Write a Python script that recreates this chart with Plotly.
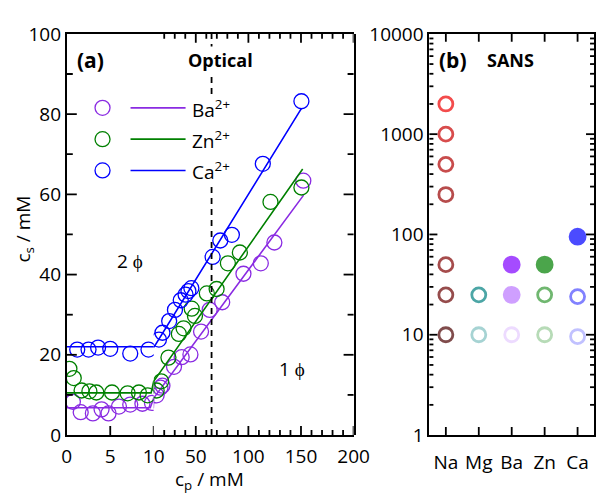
import math
import plotly.graph_objects as go

W, H = 611, 504


def px(x):
    return x / W


def py(y):
    return 1 - y / H


# ---------------- Panel (a): optical data (c_p, c_s in mM) ----------------
ba_cp = [0.7, 1.6, 3.0, 4.0, 4.8, 6.0, 7.3, 8.7, 9.8, 12.8, 16.4, 18.3, 29.3,
         36.6, 44.9, 55.0, 63.2, 75.1, 95.3, 111.8, 124.7, 152.2]
ba_cs = [8.3, 5.7, 5.4, 6.4, 5.4, 7.1, 7.6, 7.8, 8.0, 9.9, 11.8, 12.3, 17.0,
         19.4, 20.1, 25.8, 31.2, 33.1, 40.2, 42.8, 48.0, 63.4]

zn_cp = [0.3, 0.8, 1.7, 2.6, 3.4, 5.2, 7.0, 8.3, 9.3, 12.8, 17.1, 24.0, 33.9,
         38.4, 46.1, 49.2, 60.5, 69.8, 80.5, 91.9, 121.0, 150.4]
zn_cs = [16.5, 14.2, 11.1, 10.9, 10.6, 10.6, 10.4, 10.6, 9.9, 11.1, 13.4, 19.3,
         25.2, 26.6, 31.5, 29.7, 35.3, 36.4, 42.8, 45.5, 58.1, 61.7]

ca_cp = [1.2, 2.5, 3.6, 5.0, 7.3, 9.4, 15.0, 18.3, 24.7, 30.2, 35.7, 40.3,
         43.0, 45.8, 66.0, 73.3, 84.3, 113.7, 150.4]
ca_cs = [21.3, 21.3, 21.8, 21.5, 20.3, 21.3, 23.8, 25.5, 28.4, 31.2, 33.6, 35.0,
         35.9, 36.6, 44.4, 48.5, 49.9, 67.6, 83.2]

# piecewise fits
ba_fit_cp = [0, 9.6, 10, 152.5]
ba_fit_cs = [6.8, 6.8, 9.2, 59.8]
zn_fit_cp = [0, 9.7, 10, 151.6]
zn_fit_cs = [10.5, 10.5, 13.4, 66.3]
ca_fit_cp = [0, 10.5, 150.6]
ca_fit_cs = [22.0, 22.0, 81.5]

cp_break = 10      # axis break: linear 0-10, then linear 10-200
cp_dashed = 65     # vertical dashed line

series_names = ["Ba<sup>2+</sup>", "Zn<sup>2+</sup>", "Ca<sup>2+</sup>"]

# tick values
seg1_major = [0, 5, 10]
seg2_major = [50, 100, 150, 200]
seg2_minor = [v for v in range(20, 200, 10) if v % 50 != 0]
cs_major = [0, 20, 40, 60, 80, 100]
cs_minor = [10, 30, 50, 70, 90]

# ---------------- Panel (b): SANS samples (c_s in mM) ----------------
sans_ions = ["Na", "Mg", "Ba", "Zn", "Ca"]
sans_na_cs = [2000, 1000, 500, 250, 50, 25, 10]
sans_mg_cs = [25, 10]
sans_ba_cs = [50, 25, 10]
sans_zn_cs = [50, 25, 10]
sans_ca_cs = [95, 24, 9.6]
log_major = [1, 10, 100, 1000, 10000]
log_minor = [m * 10 ** k for k in range(4) for m in range(2, 10)]

# ---------------- styles ----------------
col_ba, col_zn, col_ca = "#8a2be2", "#008000", "#0000ff"
a_colors = [col_ba, col_zn, col_ca]

sans_styles = {
    "Na": (["#ee0000", "#c80000", "#b00000", "#990000", "#800000", "#6a0000", "#4a0000"],
           [False] * 7),
    "Mg": (["#008080", "#80c0c0"], [False, False]),
    "Ba": (["#8000ff", "#bb77ff", "#e6ccff"], [True, True, False]),
    "Zn": (["#008000", "#339933", "#99cc99"], [True, False, False]),
    "Ca": (["#0000ff", "#4d4dff", "#a6a6ff"], [True, False, False]),
}
sans_values = {"Na": sans_na_cs, "Mg": sans_mg_cs, "Ba": sans_ba_cs,
               "Zn": sans_zn_cs, "Ca": sans_ca_cs}

FONT = "Open Sans"
fig = go.Figure()

# ---- panel (a) traces ----
for cp, cs, fcp, fcs, col in [(ba_cp, ba_cs, ba_fit_cp, ba_fit_cs, col_ba),
                              (zn_cp, zn_cs, zn_fit_cp, zn_fit_cs, col_zn),
                              (ca_cp, ca_cs, ca_fit_cp, ca_fit_cs, col_ca)]:
    for xa in ["x", "x3"]:
        fig.add_trace(go.Scatter(x=fcp, y=fcs, xaxis=xa, yaxis="y", mode="lines",
                                 line=dict(color=col, width=1.6), hoverinfo="skip"))
    left = [(a, b) for a, b in zip(cp, cs) if a <= cp_break]
    right = [(a, b) for a, b in zip(cp, cs) if a > cp_break]
    for xa, pts in [("x", left), ("x3", right)]:
        fig.add_trace(go.Scatter(x=[p[0] for p in pts], y=[p[1] for p in pts],
                                 xaxis=xa, yaxis="y", mode="markers",
                                 marker=dict(symbol="circle-open", size=15, color=col,
                                             line=dict(width=1.3, color=col))))

fig.add_trace(go.Scatter(x=[cp_dashed, cp_dashed], y=[0, 100], xaxis="x3", yaxis="y4",
                         mode="lines", line=dict(color="black", width=1.8, dash="6px,5px"),
                         hoverinfo="skip"))

# ---- panel (b) traces ----
for ion in sans_ions:
    cols, filled = sans_styles[ion]
    vals = sans_values[ion]
    fig.add_trace(go.Scatter(
        x=[ion] * len(vals), y=vals, xaxis="x2", yaxis="y2", mode="markers",
        marker=dict(symbol=["circle" if f else "circle-open" for f in filled],
                    size=[15 if f else 14 for f in filled], color=cols,
                    line=dict(width=2.8, color=cols))))

ydom = [py(445), py(22)]
TF = dict(family=FONT, size=19, color="black")
base = dict(showgrid=False, zeroline=False, showline=True, linewidth=2,
            linecolor="black", ticks="", tickfont=TF)

fig.update_layout(
    width=W, height=H, margin=dict(l=0, r=0, t=0, b=0),
    paper_bgcolor="white", plot_bgcolor="rgba(0,0,0,0)", showlegend=False,
    font=dict(family=FONT, color="black"),
    xaxis=dict(base, domain=[px(64), px(154)], range=[0, cp_break], anchor="y",
               tickmode="array", tickvals=seg1_major, mirror=True,
               ticklabelstandoff=3),
    xaxis3=dict(base, domain=[px(154), px(361)], range=[cp_break, 200], anchor="y",
                tickmode="array", tickvals=seg2_major, mirror=True,
                ticklabelstandoff=3),
    yaxis=dict(base, domain=ydom, range=[0, 100], anchor="x", tickmode="array",
               tickvals=cs_major),
    yaxis4=dict(base, domain=ydom, range=[0, 100], anchor="x3", side="right",
                showticklabels=False),
    xaxis2=dict(base, domain=[px(439.5), px(610)], anchor="y2", type="category",
                categoryorder="array", categoryarray=sans_ions, range=[-0.5, 4.5],
                mirror=True, ticklabelstandoff=9),
    yaxis2=dict(base, domain=ydom, anchor="x2", type="log", range=[0, 4],
                tickmode="array", tickvals=log_major,
                ticktext=[str(v) for v in log_major], mirror=True),
)

# ---- tick marks (inside), placed through the axes' own scales ----
shapes = []
TK = dict(color="black", width=1.8)
Y_BOT, Y_TOP = 445, 22


def xticks(ref, vals, length, top=True):
    for v in vals:
        shapes.append(dict(type="line", xref=ref, x0=v, x1=v, yref="paper",
                           ysizemode="pixel", yanchor=py(Y_BOT), y0=0, y1=length,
                           line=TK))
        if top:
            shapes.append(dict(type="line", xref=ref, x0=v, x1=v, yref="paper",
                               ysizemode="pixel", yanchor=py(Y_TOP), y0=0, y1=-length,
                               line=TK))


def yticks(ref, vals, length, xl, xr, dom=None):
    for v in vals:
        yv = v if dom is None else dom(v)
        yr = ref if dom is None else ref + " domain"
        shapes.append(dict(type="line", yref=yr, y0=yv, y1=yv, xref="paper",
                           xsizemode="pixel", xanchor=px(xl), x0=0, x1=length, line=TK))
        shapes.append(dict(type="line", yref=yr, y0=yv, y1=yv, xref="paper",
                           xsizemode="pixel", xanchor=px(xr), x0=0, x1=-length, line=TK))


xticks("x", [5, 10], 9, top=False)
xticks("x3", seg2_major, 9)
xticks("x3", seg2_minor, 5)
yticks("y", cs_major[1:-1], 10, 64, 361)
yticks("y", cs_minor, 6, 64, 361)
xticks("x2", sans_ions, 8)
log_dom = lambda v: math.log10(v) / 4.0
yticks("y2", log_major[1:-1], 8, 439.5, 610, dom=log_dom)
yticks("y2", log_minor, 4, 439.5, 610, dom=log_dom)

# ---- custom legend (opaque box, circle, line, label) ----
shapes.append(dict(type="rect", xref="paper", yref="paper", x0=px(82), x1=px(238),
                   y0=py(182), y1=py(86), fillcolor="white", line=dict(width=0),
                   layer="above"))
ann = []
for i, (name, col) in enumerate(zip(series_names, a_colors)):
    yy = 100 + 33 * i
    shapes.append(dict(type="circle", xref="paper", yref="paper",
                       xsizemode="pixel", ysizemode="pixel",
                       xanchor=px(101), yanchor=py(yy), x0=-7.5, x1=7.5, y0=-7.5, y1=7.5,
                       line=dict(color=col, width=1.3), layer="above"))
    shapes.append(dict(type="line", xref="paper", yref="paper", x0=px(130), x1=px(187),
                       y0=py(yy), y1=py(yy), line=dict(color=col, width=1.6),
                       layer="above"))
    ann.append(dict(text=name, x=px(192), y=py(yy + 1), xanchor="left", yanchor="middle",
                    font=dict(size=19)))

ann += [
    dict(text="<b>(a)</b>", x=px(73), y=py(50), xanchor="left", yanchor="middle",
         font=dict(size=21)),
    dict(text="<b>Optical</b>", x=px(187), y=py(50), xanchor="left", yanchor="middle",
         font=dict(size=18), bgcolor="white"),
    dict(text="<b>(b)</b>", x=px(447), y=py(50), xanchor="left", yanchor="middle",
         font=dict(size=21)),
    dict(text="<b>SANS</b>", x=px(497), y=py(50), xanchor="left", yanchor="middle",
         font=dict(size=18)),
    dict(text="2 \u03d5", x=px(129), y=py(262), xanchor="center", yanchor="middle",
         font=dict(size=19)),
    dict(text="1 \u03d5", x=px(297), y=py(375), xanchor="center", yanchor="middle",
         font=dict(size=19)),
    dict(text="c<sub>s</sub> / mM", x=px(20), y=py(228), xanchor="center",
         yanchor="middle", textangle=-90, font=dict(size=19)),
    dict(text="c<sub>p</sub> / mM", x=px(212), y=py(492), xanchor="center",
         yanchor="middle", font=dict(size=19)),
]
for a in ann:
    a.update(xref="paper", yref="paper", showarrow=False)

fig.update_layout(shapes=shapes, annotations=ann)
fig.write_html("out.html")
